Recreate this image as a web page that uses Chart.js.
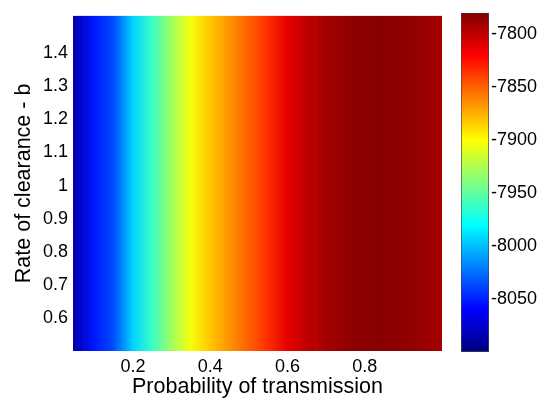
<!DOCTYPE html>
<html>
<head>
<meta charset="utf-8">
<script src="https://cdn.jsdelivr.net/npm/chart.js@4.4.1/dist/chart.umd.min.js"></script>
<style>
  body { margin: 0; background: #fff; }
  #wrap { position: relative; width: 544px; height: 400px; }
  #wrap canvas { position: absolute; left: 0; top: 0; }
</style>
</head>
<body>
<div id="wrap">
  <canvas id="heat" width="544" height="400"></canvas>
  <canvas id="cbar" width="544" height="400"></canvas>
</div>
<script>
// probability of transmission (x) and the value read for each column
var xValues = [0.05, 0.10, 0.15, 0.20, 0.25, 0.30, 0.35, 0.40, 0.45, 0.50,
               0.55, 0.60, 0.65, 0.70, 0.75, 0.80, 0.85, 0.90, 0.95, 1.00];
var zValues = [-8084, -8053, -8036, -7994, -7962, -7930, -7903, -7882, -7866, -7850,
               -7834, -7812, -7800, -7792, -7786, -7783, -7783, -7785, -7788, -7791];

// rate of clearance (y) extent
var yMin = 0.5;
var yMax = 1.513;

var xTicks = [0.2, 0.4, 0.6, 0.8];
var yTicks = [0.6, 0.7, 0.8, 0.9, 1, 1.1, 1.2, 1.3, 1.4];

// colour scale
var cMin = -8100;
var cMax = -7780;
var cTicks = [-8050, -8000, -7950, -7900, -7850, -7800];

var FONT = "'Liberation Sans', Arial, sans-serif";
Chart.defaults.font.family = FONT;
Chart.defaults.color = '#000';

// matlab jet colormap
function jet(t) {
    t = Math.max(0, Math.min(1, t));
    function c(v) { return Math.round(255 * Math.max(0, Math.min(1, v))); }
    var r = 1.5 - Math.abs(4 * t - 3);
    var g = 1.5 - Math.abs(4 * t - 2);
    var b = 1.5 - Math.abs(4 * t - 1);
    return 'rgb(' + c(r) + ',' + c(g) + ',' + c(b) + ')';
}
function colorOf(z) {
    return jet((z - cMin) / (cMax - cMin));
}

// interpolated shading between the columns, like "shading interp"
function heatFill(context) {
    var chart = context.chart;
    var xs = chart.scales.x;
    if (!xs || !chart.chartArea) return colorOf(zValues[0]);
    var p0 = xs.getPixelForValue(xValues[0]);
    var p1 = xs.getPixelForValue(xValues[xValues.length - 1]);
    var key = p0 + ':' + p1;
    if (chart.$heatKey === key) return chart.$heatGrad;
    var g = chart.ctx.createLinearGradient(p0, 0, p1, 0);
    xValues.forEach(function(x, i) {
        g.addColorStop((xs.getPixelForValue(x) - p0) / (p1 - p0), colorOf(zValues[i]));
    });
    chart.$heatKey = key;
    chart.$heatGrad = g;
    return g;
}

var heatChart = new Chart(document.getElementById('heat').getContext('2d'), {
    type: 'bar',
    data: {
        datasets: [{
            data: xValues.map(function(x) { return { x: x, y: [yMin, yMax] }; }),
            backgroundColor: heatFill,
            borderWidth: 0,
            barPercentage: 1,
            categoryPercentage: 1
        }]
    },
    options: {
        responsive: false,
        animation: false,
        events: [],
        layout: { padding: { top: 11, right: 102, bottom: 0, left: 0 } },
        plugins: { legend: { display: false }, tooltip: { enabled: false } },
        scales: {
            x: {
                type: 'linear',
                offset: false,
                min: 0.045,
                max: 1.0,
                afterBuildTicks: function(s) { s.ticks = xTicks.map(function(v) { return { value: v }; }); },
                afterFit: function(s) { s.height = 49; },
                grid: { display: false, drawTicks: false },
                border: { display: false },
                ticks: {
                    font: { size: 18 },
                    padding: 5,
                    maxRotation: 0,
                    callback: function(v) { return String(v); }
                },
                title: {
                    display: true,
                    text: 'Probability of transmission',
                    font: { size: 21.5 },
                    padding: { top: 0, bottom: 0 }
                }
            },
            y: {
                type: 'linear',
                min: yMin,
                max: yMax,
                afterBuildTicks: function(s) { s.ticks = yTicks.map(function(v) { return { value: v }; }); },
                afterFit: function(s) { s.width = 73; },
                grid: { display: false, drawTicks: false },
                border: { display: false },
                ticks: {
                    font: { size: 18 },
                    padding: 5,
                    callback: function(v) { return String(v); }
                },
                title: {
                    display: true,
                    text: 'Rate of clearance - b',
                    font: { size: 21.5 },
                    padding: { top: 11, bottom: 0 }
                }
            }
        }
    }
});

// colour bar
function barFill(context) {
    var chart = context.chart;
    var ys = chart.scales.y;
    if (!ys || !chart.chartArea) return colorOf(cMin);
    if (chart.$grad) return chart.$grad;
    var top = ys.getPixelForValue(cMax);
    var bottom = ys.getPixelForValue(cMin);
    var g = chart.ctx.createLinearGradient(0, bottom, 0, top);
    for (var i = 0; i <= 64; i++) {
        g.addColorStop(i / 64, jet(i / 64));
    }
    chart.$grad = g;
    return g;
}

var barChart = new Chart(document.getElementById('cbar').getContext('2d'), {
    type: 'bar',
    data: {
        labels: ['c'],
        datasets: [{
            data: [[cMin, cMax]],
            backgroundColor: barFill,
            borderColor: '#444',
            borderWidth: 1,
            borderSkipped: false,
            barPercentage: 1,
            categoryPercentage: 1
        }]
    },
    options: {
        responsive: false,
        animation: false,
        events: [],
        layout: { padding: { top: 11, right: 0, bottom: 48, left: 461 } },
        plugins: { legend: { display: false }, tooltip: { enabled: false } },
        scales: {
            x: { display: false },
            y: {
                position: 'right',
                z: 1,
                min: cMin,
                max: cMax,
                afterBuildTicks: function(s) { s.ticks = cTicks.map(function(v) { return { value: v }; }); },
                afterFit: function(s) { s.width = 55; },
                grid: { display: true, drawOnChartArea: true, drawTicks: false, color: '#222', lineWidth: 1 },
                border: { display: false, dash: [3, 22] },
                ticks: {
                    font: { size: 18 },
                    padding: 2,
                    callback: function(v) { return String(v); }
                }
            }
        }
    }
});
</script>
</body>
</html>
